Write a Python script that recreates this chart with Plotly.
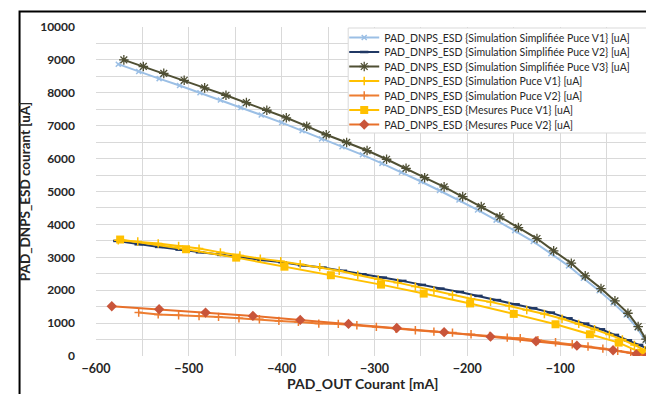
import plotly.graph_objects as go

# ---------------- data ----------------
x_simp_v1 = [-576, -554, -532, -510, -488, -466, -444, -422, -400, -378, -357, -335, -313, -292,
             -271, -250, -230, -209, -189, -169, -149, -129, -110, -91, -75, -58, -43, -29, -17, -8, -2, 0]
y_simp_v1 = [8870, 8645, 8430, 8220, 8000, 7780, 7555, 7325, 7095, 6850, 6600, 6360, 6115, 5855,
             5585, 5305, 5030, 4740, 4440, 4130, 3810, 3480, 3110, 2740, 2365, 1985, 1615, 1245, 850, 470, 180, 80]

x_simp_v2 = [-577, -554, -532, -510, -488, -465, -444, -422, -399, -378, -356, -334, -313, -291, -270,
             -249, -229, -208, -188, -168, -148, -129, -110, -91, -73, -56, -41, -27, -15, -4, 0]
y_simp_v2 = [3498, 3395, 3316, 3234, 3152, 3073, 2991, 2921, 2850, 2757, 2687, 2590, 2484, 2383, 2283,
             2161, 2049, 1948, 1827, 1700, 1571, 1450, 1319, 1146, 985, 812, 641, 477, 337, 204, 100]

x_simp_v3 = [-570, -549, -527, -505, -483, -460, -438, -416, -395, -373, -352, -330, -308, -287, -266,
             -246, -225, -205, -185, -165, -145, -125, -107, -88, -73, -56, -41, -27, -16, -7.5, -2, 0]
y_simp_v3 = [9000, 8800, 8590, 8380, 8150, 7925, 7700, 7470, 7240, 6985, 6725, 6490, 6245, 5980, 5705,
             5420, 5140, 4845, 4540, 4230, 3905, 3570, 3195, 2820, 2435, 2050, 1675, 1300, 895, 510, 205, 100]

x_sim_v1 = [-576, -555, -533, -511, -489, -466, -445, -423, -401, -380, -359, -338, -318, -296, -275, -256,
            -236, -216, -196, -175, -155, -136, -117, -98, -80, -63, -47, -33, -20, -9, -2]
y_sim_v1 = [3520, 3480, 3420, 3346, 3264, 3150, 3055, 2960, 2880, 2787, 2700, 2590, 2460, 2330, 2230, 2109,
            1988, 1857, 1740, 1645, 1525, 1400, 1275, 1130, 975, 815, 650, 500, 335, 180, 80]

x_sim_v2 = [-554, -533, -511, -489, -468, -446, -424, -403, -382, -360, -339, -319, -298, -277, -256,
            -236, -216, -196, -176, -157, -143, -124, -105, -87, -70, -54, -38, -24, -12, -3]
y_sim_v2 = [1319, 1265, 1235, 1215, 1188, 1146, 1116, 1067, 1036, 985, 975, 935, 884, 835, 782,
            742, 711, 660, 610, 559, 538, 480, 420, 355, 290, 225, 160, 100, 50, 10]

x_mes_v1 = [-574, -503, -449, -397, -347, -293, -247, -197, -150, -105, -68, -37, -13, -2]
y_mes_v1 = [3540, 3245, 2990, 2715, 2455, 2170, 1897, 1598, 1280, 964, 660, 407, 103, 30]

x_mes_v2 = [-583, -532, -482, -431, -380, -328, -276, -225, -175, -126, -82, -43, -18, -6]
y_mes_v2 = [1510, 1420, 1319, 1219, 1097, 976, 850, 725, 588, 450, 315, 173, 52, 5]

names = [
    "PAD_DNPS_ESD {Simulation Simplifiée Puce V1} [uA]",
    "PAD_DNPS_ESD {Simulation Simplifiée Puce V2} [uA]",
    "PAD_DNPS_ESD {Simulation Simplifiée Puce V3} [uA]",
    "PAD_DNPS_ESD {Simulation Puce V1} [uA]",
    "PAD_DNPS_ESD {Simulation Puce V2} [uA]",
    "PAD_DNPS_ESD {Mesures Puce V1} [uA]",
    "PAD_DNPS_ESD {Mesures Puce V2} [uA]",
]
x_title = "PAD_OUT Courant [mA]"
y_title = "PAD_DNPS_ESD courant [uA]"

# ---------------- styles ----------------
series = [
    (x_simp_v1, y_simp_v1, "#9BBFE5", dict(symbol="x-thin", size=5, color="#9BBFE5", line=dict(width=1.5, color="#9BBFE5"))),
    (x_simp_v2, y_simp_v2, "#203864", dict(symbol="line-ew", size=6, color="#203864", line=dict(width=2.5, color="#203864"))),
    (x_simp_v3, y_simp_v3, "#4F4F33", dict(symbol="asterisk", size=8, color="#4F4F33", line=dict(width=1.3, color="#4F4F33"))),
    (x_sim_v1, y_sim_v1, "#FFC000", dict(symbol="cross-thin", size=6, color="#FFC000", line=dict(width=1.5, color="#FFC000"))),
    (x_sim_v2, y_sim_v2, "#ED7D31", dict(symbol="cross-thin", size=6, color="#ED7D31", line=dict(width=1.5, color="#ED7D31"))),
    (x_mes_v1, y_mes_v1, "#FFC000", dict(symbol="square", size=8, color="#FFC000")),
    (x_mes_v2, y_mes_v2, "#E8702A", dict(symbol="diamond", size=8, color="#C9553A")),
]

FONT = "Lato"
fig = go.Figure()

H, W = 394, 654
ml, mr, mt, mb = 88, 5, 19, 46
ph = H - mt - mb
pw = W - ml - mr

def py2paper(py):
    return (H - mb - py) / ph

def px2paper(px):
    return (px - ml) / pw

row_y = [29.5, 44, 58.5, 73, 87.5, 102, 116.5]
leg_x = px2paper(338)

layout_legends = {}
for i, ((xs, ys, lc, mk), nm) in enumerate(zip(series, names)):
    key = "legend" if i == 0 else f"legend{i+1}"
    fig.add_trace(go.Scatter(
        x=xs, y=ys, name=nm, mode="lines+markers",
        line=dict(color=lc, width=2), marker=mk,
        legend=key,
    ))
    layout_legends[key] = dict(
        x=leg_x, y=py2paper(row_y[i]), xanchor="left", yanchor="middle",
        bgcolor="rgba(0,0,0,0)", borderwidth=0,
        font=dict(family=FONT, size=10.5, color="#262626"),
        itemwidth=30,
    )

fig.update_layout(
    width=W, height=H,
    margin=dict(l=ml, r=mr, t=mt, b=mb),
    paper_bgcolor="white", plot_bgcolor="white",
    showlegend=True,
    font=dict(family=FONT, color="#262626"),
    **layout_legends,
)

fig.update_xaxes(
    range=[-600, 0], dtick=100, tick0=0,
    showgrid=True, gridcolor="#D9D9D9", gridwidth=1,
    minor=dict(dtick=50, showgrid=True, gridcolor="#D9D9D9", gridwidth=1),
    zeroline=False, showline=False,
    tickfont=dict(family=FONT, size=12.5, color="#262626", weight="bold"),
    ticklabelstandoff=3,
)
fig.update_yaxes(
    range=[0, 10000], dtick=1000, tick0=0, tickformat="d",
    showgrid=True, gridcolor="#D9D9D9", gridwidth=1,
    minor=dict(dtick=500, showgrid=True, gridcolor="#D9D9D9", gridwidth=1),
    zeroline=False, showline=False,
    tickfont=dict(family=FONT, size=12, color="#262626", weight="bold"),
    ticklabelstandoff=20,
    title=dict(text=y_title, font=dict(family=FONT, size=13.5, color="#262626", weight="bold"), standoff=6),
)

# x-axis title placed as in the reference (slightly left of centre, close to the tick labels)
fig.add_annotation(text=f"<b>{x_title}</b>", xref="paper", yref="paper",
                   x=px2paper(356), y=py2paper(375), xanchor="center", yanchor="middle",
                   showarrow=False, font=dict(family=FONT, size=14, color="#262626"))

# legend box (white background above the plot lines) and outer chart frame
fig.add_shape(type="rect", xref="paper", yref="paper",
              x0=px2paper(342), x1=px2paper(650), y0=py2paper(125), y1=py2paper(20),
              fillcolor="white", line=dict(color="#D9D9D9", width=1), layer="above")
fig.add_shape(type="rect", xref="paper", yref="paper",
              x0=px2paper(11), x1=px2paper(662), y0=py2paper(392), y1=py2paper(3.5),
              fillcolor="rgba(0,0,0,0)", line=dict(color="black", width=2), layer="above")

fig.write_html("out.html")
